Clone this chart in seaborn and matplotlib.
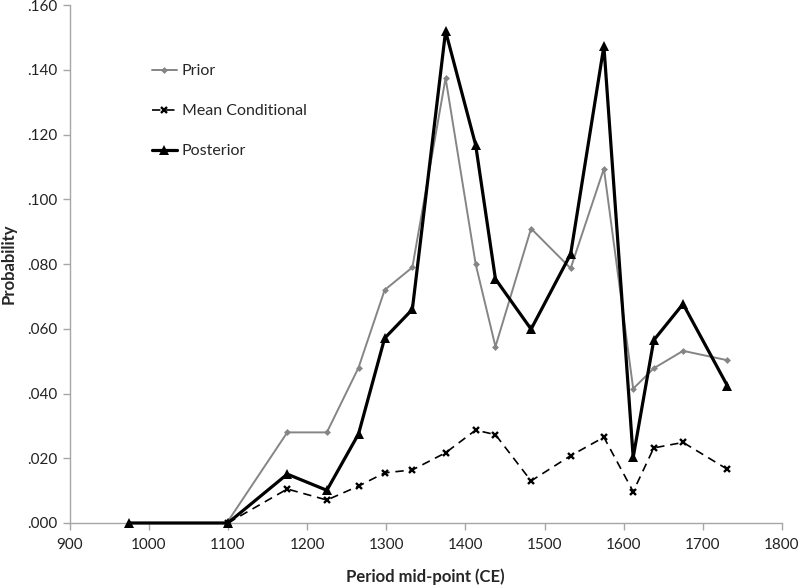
import matplotlib
matplotlib.use("Agg")
import matplotlib.pyplot as plt
import seaborn as sns
import pandas as pd
import numpy as np
from matplotlib.ticker import FuncFormatter, MultipleLocator

years = [975, 1100, 1175, 1225, 1265, 1298, 1333, 1375, 1413, 1438, 1483, 1533, 1575, 1612, 1638, 1675, 1731]
prior = [np.nan, 0.0005, 0.028, 0.028, 0.048, 0.072, 0.079, 0.1375, 0.080, 0.0545, 0.091, 0.0787, 0.1095, 0.0415, 0.0478, 0.0532, 0.0503]
mean_cond = [np.nan, 0.000, 0.0105, 0.0071, 0.0114, 0.0155, 0.0164, 0.0217, 0.0287, 0.0273, 0.013, 0.0208, 0.0265, 0.0097, 0.0232, 0.0249, 0.0166]
posterior = [0.000, 0.000, 0.0151, 0.0101, 0.0275, 0.0571, 0.066, 0.152, 0.1168, 0.0754, 0.0599, 0.0831, 0.1474, 0.0203, 0.0565, 0.0677, 0.0424]

sns.set_style("white")
plt.rcParams['font.family'] = ['Lato', 'DejaVu Sans']

fig = plt.figure(figsize=(8, 5.85), dpi=100)
ax = fig.add_axes([0.087, 0.106, 0.8905, 0.885])

df = pd.DataFrame({"year": years, "Prior": prior, "Mean Conditional": mean_cond, "Posterior": posterior})

sns.lineplot(data=df, x="year", y="Prior", ax=ax, color="#858585", linewidth=1.4,
             marker="D", markersize=3.5, markeredgewidth=0, markerfacecolor="#858585",
             label="Prior", clip_on=False)
sns.lineplot(data=df, x="year", y="Mean Conditional", ax=ax, color="black", linewidth=1.2,
             linestyle=(0, (5, 3.5)), marker="x", markersize=4.5, markeredgewidth=1.7,
             markeredgecolor="black", label="Mean Conditional", clip_on=False)
sns.lineplot(data=df, x="year", y="Posterior", ax=ax, color="black", linewidth=2.3,
             marker="^", markersize=6.5, markeredgewidth=0, markerfacecolor="black",
             label="Posterior", clip_on=False)

ax.set_xlim(900, 1800)
ax.set_ylim(0, 0.160)
ax.xaxis.set_major_locator(MultipleLocator(100))
ax.yaxis.set_major_locator(MultipleLocator(0.02))
ax.yaxis.set_major_formatter(FuncFormatter(lambda v, p: f"{v:.3f}".lstrip("0")))

for s in ["top", "right"]:
    ax.spines[s].set_visible(False)
for s in ["left", "bottom"]:
    ax.spines[s].set_color("#a6a6a6")
    ax.spines[s].set_linewidth(1.0)
    ax.spines[s].set_zorder(0.5)
ax.tick_params(axis="both", which="major", direction="out", length=5, width=1,
               color="#a6a6a6", labelsize=11, labelcolor="#222222", bottom=True, left=True)
ax.tick_params(axis="x", pad=6)

ax.set_xlabel("Period mid-point (CE)", fontsize=12, fontweight="bold", labelpad=12)
ax.set_ylabel("Probability", fontsize=12, fontweight="bold", labelpad=8)

leg = ax.legend(loc="upper left", bbox_to_anchor=(0.106, 0.899), frameon=False, fontsize=11.5,
                handlelength=1.6, handletextpad=0.3, labelspacing=1.62, borderaxespad=0)

fig.savefig("out.png", dpi=100)
